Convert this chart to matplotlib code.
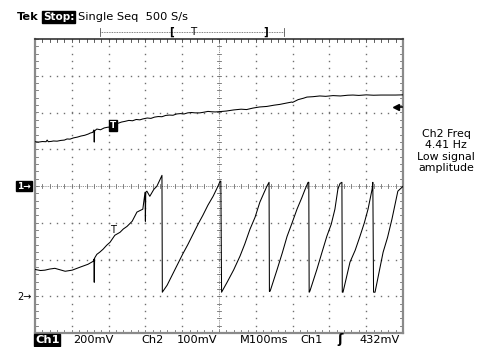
import matplotlib
matplotlib.use("Agg")
import matplotlib.pyplot as plt
import numpy as np

W, H, DPI = 481, 347, 100

# ---- data (time in ms, voltage in mV) ----
ch1_t = [0, 10, 20, 30, 33, 36, 45, 50, 60, 70, 80, 87, 95, 105, 115, 125, 135, 145, 150, 157,
         160, 161, 162, 168, 178, 188, 198, 204, 210, 217, 225, 235, 245, 255, 265, 275, 285,
         293, 305, 315, 325, 335, 345, 355, 365, 375, 385, 395, 405, 415, 425, 435, 448, 460,
         470, 480, 490, 503, 520, 540, 560, 575, 592, 610, 630, 650, 665, 685, 698, 700, 715,
         730, 739, 755, 774, 790, 810, 830, 850, 864, 880, 900, 920, 940, 960, 980, 1000]
ch1_mv = [241, 239, 242, 241, 250, 241, 243, 245, 244, 248, 250, 256, 255, 262, 266, 272, 276,
          283, 288, 292, 305, 239, 300, 310, 306, 316, 320, 321, 330, 343, 341, 348, 352, 357,
          355, 362, 360, 365, 370, 368, 375, 378, 377, 384, 386, 385, 392, 394, 392, 398, 400,
          398, 398, 402, 406, 404, 403, 405, 408, 414, 418, 416, 424, 430, 433, 440, 444, 452,
          457, 455, 470, 478, 484, 486, 490, 488, 492, 490, 494, 495, 493, 496, 494, 495, 495,
          495, 496]

ch2_t = [0, 15, 27, 40, 54, 68, 82, 101, 122, 144, 158, 160, 161, 162, 168, 176, 185, 195, 204,
         217, 231, 240, 250, 264, 277, 293, 299, 300, 301, 304, 312, 323, 331, 340, 345,
         346, 359, 370, 380, 392, 402, 415, 429, 443, 456, 470, 484, 497, 503, 505,
         507, 522, 540, 557, 570, 584, 598, 611, 630, 636,
         637, 639, 658, 672, 685, 698, 712, 725, 734, 742, 744,
         745, 747, 766, 780, 793, 805, 815, 823, 829, 834,
         835, 837, 856, 870, 883, 895, 905, 916, 918,
         920, 924, 946, 958, 970, 986, 1000]
ch2_mv = [73, 70, 71, 74, 76, 72, 68, 71, 79, 87, 95, 101, 38, 104, 114, 120, 128, 139, 147,
          166, 174, 183, 190, 204, 229, 237, 283, 204, 283, 286, 272, 291, 299, 318, 329,
          11, 30, 52, 72, 96, 116, 140, 168, 196, 220, 248, 272, 299, 313, 313,
          11, 38, 72, 109, 142, 182, 215, 256, 299, 310,
          13, 14, 73, 118, 163, 198, 237, 268, 291, 310, 310,
          11, 14, 73, 120, 163, 196, 237, 291, 307, 310,
          11, 11, 93, 125, 163, 200, 237, 291, 310,
          11, 11, 120, 160, 210, 286, 299]

time_div_ms = 100
ch1_mv_div = 200
ch2_mv_div = 100
ch1_ref_div = 0
ch2_ref_div = -3
trig_level_mv = 432
ch1_trig_mark_ms = 212
ch1_trig_mark_mv = 330
ch2_mark_ms = 212
ch2_mark_mv = 180

header = "Single Seq  500 S/s"
side_lines = ["Ch2 Freq", "4.41 Hz", "Low signal", "amplitude"]
bottom_items = [("Ch1", 35, True), ("200mV", 73, False), ("Ch2", 141, False),
                ("100mV", 177, False), ("M100ms", 240, False), ("Ch1", 300, False),
                ("432mV", 360, False)]

fig = plt.figure(figsize=(W / DPI, H / DPI), dpi=DPI, facecolor="white")

# graticule area in pixels
L, R, T, B = 35, 403, 39, 333
ax = fig.add_axes([L / W, 1 - B / H, (R - L) / W, (B - T) / H])
ax.set_xlim(0, 10)
ax.set_ylim(-4, 4)
ax.set_xticks([])
ax.set_yticks([])
for s in ["left", "right", "bottom"]:
    ax.spines[s].set_color("#8a8a8a")
    ax.spines[s].set_linewidth(1.6)
ax.spines["top"].set_color("#333333")
ax.spines["top"].set_linewidth(1.2)

gc = "#707070"
steps_x = np.arange(0, 10.01, 0.2)
steps_y = np.arange(-4, 4.01, 0.2)
# dotted major lines
for gx in range(1, 10):
    if gx == 5:
        continue
    ax.plot([gx] * len(steps_y), steps_y, ls="none", marker="s", ms=1.0, mew=0, color=gc)
for gy in range(-3, 4):
    if gy == 0:
        continue
    ax.plot(steps_x, [gy] * len(steps_x), ls="none", marker="s", ms=1.0, mew=0, color=gc)
# centre cross
ax.plot([5, 5], [-4, 4], color=gc, lw=0.6, ls=(0, (1, 1.2)))
ax.plot([0, 10], [0, 0], color=gc, lw=0.6, ls=(0, (1, 1.2)))
tk = 0.06
for yy in steps_y:
    ax.plot([5 - tk, 5 + tk], [yy, yy], color=gc, lw=0.6)
for xx in steps_x:
    ax.plot([xx, xx], [-tk, tk], color=gc, lw=0.6)
# border ticks
bt = 0.07
for xx in steps_x:
    ax.plot([xx, xx], [4, 4 - bt], color="#444", lw=0.6)
    ax.plot([xx, xx], [-4, -4 + bt], color=gc, lw=0.6)
for yy in steps_y:
    ax.plot([0, bt], [yy, yy], color=gc, lw=0.6)
    ax.plot([10, 10 - bt], [yy, yy], color=gc, lw=0.6)

# traces
x1 = np.array(ch1_t) / time_div_ms
y1 = np.array(ch1_mv) / ch1_mv_div + ch1_ref_div
x2 = np.array(ch2_t) / time_div_ms
y2 = np.array(ch2_mv) / ch2_mv_div + ch2_ref_div
ax.plot(x1, y1, color="black", lw=0.75, zorder=5)
ax.plot(x2, y2, color="black", lw=0.75, zorder=5)

# trigger marker on ch1
ax.text(ch1_trig_mark_ms / time_div_ms, ch1_trig_mark_mv / ch1_mv_div + ch1_ref_div, "T",
        color="white", fontsize=6.5, fontweight="bold", ha="center", va="center", zorder=7,
        bbox=dict(boxstyle="square,pad=0.12", fc="black", ec="black"))
ax.text(ch2_mark_ms / time_div_ms, ch2_mark_mv / ch2_mv_div + ch2_ref_div, "T", color="black",
        fontsize=7, ha="center", va="center", zorder=7)
# trigger level arrow on right
ty = trig_level_mv / ch1_mv_div + ch1_ref_div
ax.plot([9.82], [ty], marker="<", ms=4.5, color="black", clip_on=False, zorder=8)
ax.plot([9.82, 9.98], [ty, ty], color="black", lw=1.2, clip_on=False, zorder=8)

# overlay in pixel coordinates
ov = fig.add_axes([0, 0, 1, 1], facecolor="none")
ov.set_xlim(0, W)
ov.set_ylim(H, 0)
ov.axis("off")

fs = 8.2
ov.text(17, 17, "Tek", fontsize=fs, fontweight="bold", va="center", ha="left")
ov.text(43, 17, "Stop:", fontsize=fs - 0.6, fontweight="bold", va="center", ha="left",
        color="white", bbox=dict(boxstyle="square,pad=0.06", fc="black", ec="black"))
ov.text(78, 17, header, fontsize=fs, va="center", ha="left")

# record-window bracket
ov.plot([100, 284], [32, 32], color="#555", lw=0.6, ls=(0, (1, 1)))
ov.plot([100, 100], [28, 36], color="#555", lw=0.6)
ov.plot([284, 284], [28, 36], color="#555", lw=0.6)
ov.text(172, 32, "[", fontsize=7.5, fontweight="bold", va="center", ha="center")
ov.text(193, 32, "T", fontsize=7.5, va="center", ha="center")
ov.text(266, 32, "]", fontsize=7.5, fontweight="bold", va="center", ha="center")

# channel ground markers
ov.text(24, 186, "1\u2192", fontsize=6.5, fontweight="bold", color="white", va="center",
        ha="center", bbox=dict(boxstyle="square,pad=0.08", fc="black", ec="black"))
ov.text(24, 297, "2\u2192", fontsize=7, color="black", va="center", ha="center")

# side readout
for i, s in enumerate(side_lines):
    ov.text(446, 134 + i * 11.3, s, fontsize=7.9, ha="center", va="center")

# bottom readout
for s, xp, inv in bottom_items:
    if inv:
        ov.text(xp, 340, s, fontsize=fs, fontweight="bold", color="white", va="center",
                ha="left", bbox=dict(boxstyle="square,pad=0.06", fc="black", ec="black"))
    else:
        ov.text(xp, 340, s, fontsize=fs, va="center", ha="left")
ov.text(340, 340, "\u0283", fontsize=fs + 1, fontweight="bold", va="center", ha="center")

fig.savefig("out.png", dpi=DPI, facecolor="white")
